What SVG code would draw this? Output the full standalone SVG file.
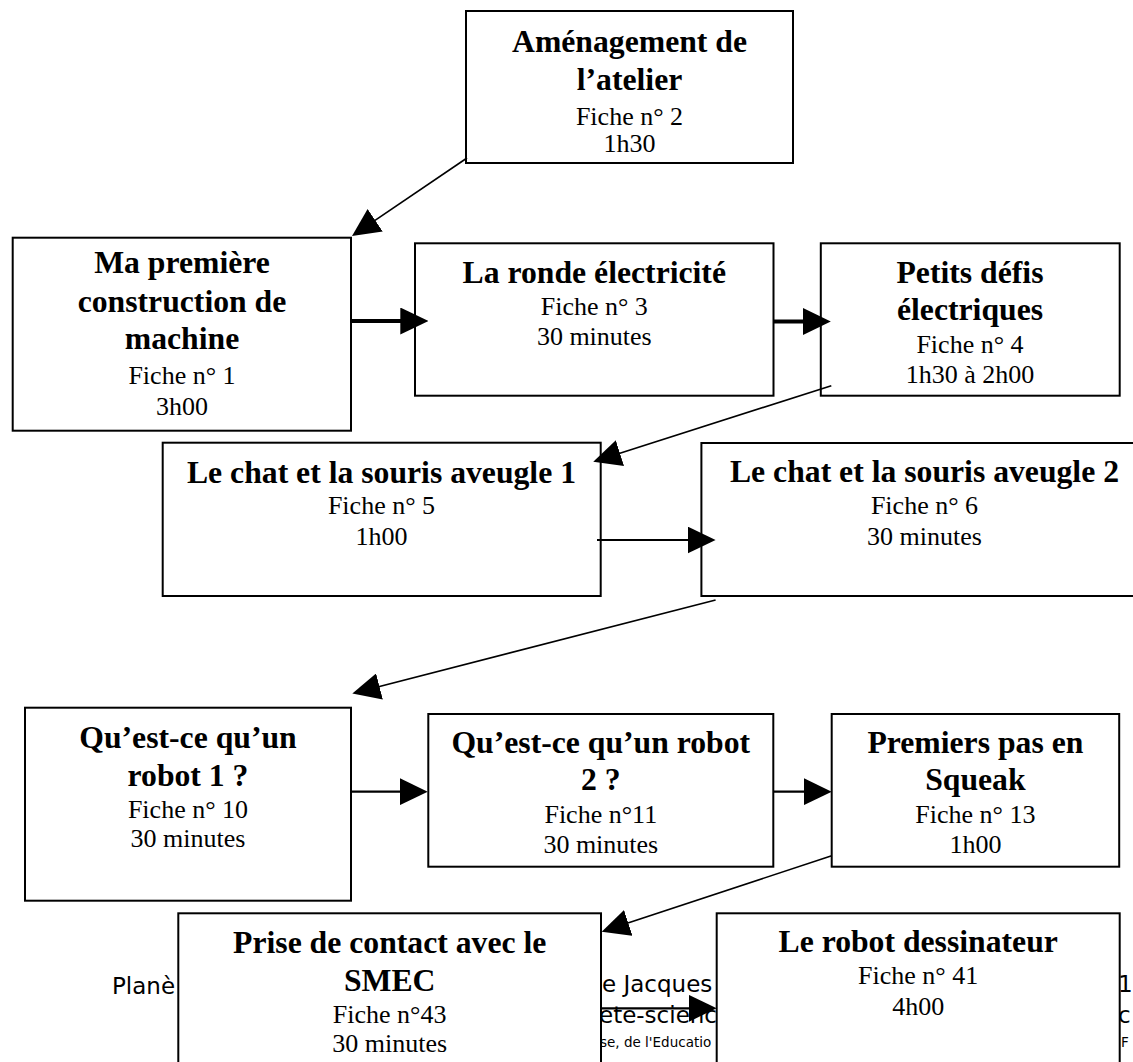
<svg xmlns="http://www.w3.org/2000/svg" width="1133" height="1062" viewBox="0 0 1133 1062">
<style>
.bg{fill:#fff}
.box{fill:#fff;stroke:#000;stroke-width:2}
.t{font-family:"Liberation Serif","Times New Roman",serif;text-anchor:middle;fill:#000}
.b{font-weight:bold;font-size:31.7px}
.r{font-size:26px}
.c{fill:none;stroke:#000;marker-end:url(#ah)}
.thin{stroke-width:1.6}
.mid{stroke-width:2.2}
.thick{stroke-width:4}
.foot{font-family:"DejaVu Sans","Verdana",sans-serif;font-size:23px;fill:#000}
.small{font-size:13.5px}
</style>
<defs>
<marker id="ah" viewBox="0 0 28 27" refX="14" refY="13.5" markerWidth="28" markerHeight="27" markerUnits="userSpaceOnUse" orient="auto">
<path d="M0,0 L28,13.5 L0,27 z" fill="#000"/>
</marker>
</defs>
<rect class="bg" x="0" y="0" width="1133" height="1062"/>

<g id="footer">
<text class="foot" x="112" y="994">Planè</text>
<text class="foot" x="602" y="992">e Jacques</text>
<text class="foot" x="1118" y="992">1</text>
<text class="foot" x="599" y="1023">ete-scienc</text>
<text class="foot" x="1118" y="1023">c</text>
<text class="foot small" x="600" y="1047">se, de l'Educatio</text>
<text class="foot small" x="1121" y="1047">F</text>
</g>

<g id="n2">
<rect class="box" x="466" y="11" width="327" height="152"/>
<text class="t b" x="629.5" y="52">Aménagement de</text>
<text class="t b" x="629.5" y="90">l’atelier</text>
<text class="t r" x="629.5" y="125">Fiche n° 2</text>
<text class="t r" x="629.5" y="152">1h30</text>
</g>

<g id="n1">
<rect class="box" x="12.7" y="237.7" width="338.3" height="193"/>
<text class="t b" x="182" y="273">Ma première</text>
<text class="t b" x="182" y="312">construction de</text>
<text class="t b" x="182" y="349">machine</text>
<text class="t r" x="182" y="384">Fiche n° 1</text>
<text class="t r" x="182" y="415">3h00</text>
</g>

<g id="n3">
<rect class="box" x="415" y="243.3" width="358.5" height="152.4"/>
<text class="t b" x="594.3" y="283">La ronde électricité</text>
<text class="t r" x="594.3" y="315">Fiche n° 3</text>
<text class="t r" x="594.3" y="345">30 minutes</text>
</g>

<g id="n4">
<rect class="box" x="820.8" y="243.3" width="298.9" height="152.4"/>
<text class="t b" x="970" y="283">Petits défis</text>
<text class="t b" x="970" y="320">électriques</text>
<text class="t r" x="970" y="353">Fiche n° 4</text>
<text class="t r" x="970" y="383">1h30 à 2h00</text>
</g>

<g id="n5">
<rect class="box" x="162.7" y="442.7" width="438" height="153.3"/>
<text class="t b" x="381.5" y="482.7">Le chat et la souris aveugle 1</text>
<text class="t r" x="381.5" y="514.3">Fiche n° 5</text>
<text class="t r" x="381.5" y="545">1h00</text>
</g>

<g id="n6">
<rect class="box" x="701.4" y="443" width="446" height="153"/>
<text class="t b" x="924.5" y="482">Le chat et la souris aveugle 2</text>
<text class="t r" x="924.5" y="514">Fiche n° 6</text>
<text class="t r" x="924.5" y="545">30 minutes</text>
</g>

<g id="n10">
<rect class="box" x="25" y="707.7" width="326" height="193"/>
<text class="t b" x="188" y="748.3">Qu’est-ce qu’un</text>
<text class="t b" x="188" y="786">robot 1 ?</text>
<text class="t r" x="188" y="817.7">Fiche n° 10</text>
<text class="t r" x="188" y="847.3">30 minutes</text>
</g>

<g id="n11">
<rect class="box" x="428.3" y="714" width="345" height="152.7"/>
<text class="t b" x="600.8" y="753.3">Qu’est-ce qu’un robot</text>
<text class="t b" x="600.8" y="790">2 ?</text>
<text class="t r" x="600.8" y="822.7">Fiche n°11</text>
<text class="t r" x="600.8" y="852.7">30 minutes</text>
</g>

<g id="n13">
<rect class="box" x="831.7" y="714" width="287.5" height="152.7"/>
<text class="t b" x="975.4" y="753.3">Premiers pas en</text>
<text class="t b" x="975.4" y="790">Squeak</text>
<text class="t r" x="975.4" y="822.7">Fiche n° 13</text>
<text class="t r" x="975.4" y="852.7">1h00</text>
</g>

<g id="n43">
<rect class="box" x="178.3" y="913.3" width="422.7" height="160"/>
<text class="t b" x="389.7" y="953.3">Prise de contact avec le</text>
<text class="t b" x="389.7" y="990.7">SMEC</text>
<text class="t r" x="389.7" y="1022.7">Fiche n°43</text>
<text class="t r" x="389.7" y="1051.7">30 minutes</text>
</g>

<g id="n41">
<rect class="box" x="716.7" y="913.3" width="403" height="160"/>
<text class="t b" x="918.2" y="951.7">Le robot dessinateur</text>
<text class="t r" x="918.2" y="984">Fiche n° 41</text>
<text class="t r" x="918.2" y="1015">4h00</text>
</g>

<g id="connectors">
<path class="c thin" d="M467,158 L363.6,228.1"/>
<path class="c thick" d="M351,321 H414.3"/>
<path class="c thick" d="M773.8,321.5 H816.8"/>
<path class="c thin" d="M831.3,385.7 L606.6,457.4"/>
<path class="c mid" d="M597,540 H701.6"/>
<path class="c thin" d="M715.6,600 L365.9,690"/>
<path class="c mid" d="M351,791.7 H413.7"/>
<path class="c mid" d="M773.3,791.7 H817.7"/>
<path class="c thin" d="M831.7,855.7 L615,927.3"/>
<path class="c mid" d="M601,1008.3 H702.7"/>
</g>
</svg>
